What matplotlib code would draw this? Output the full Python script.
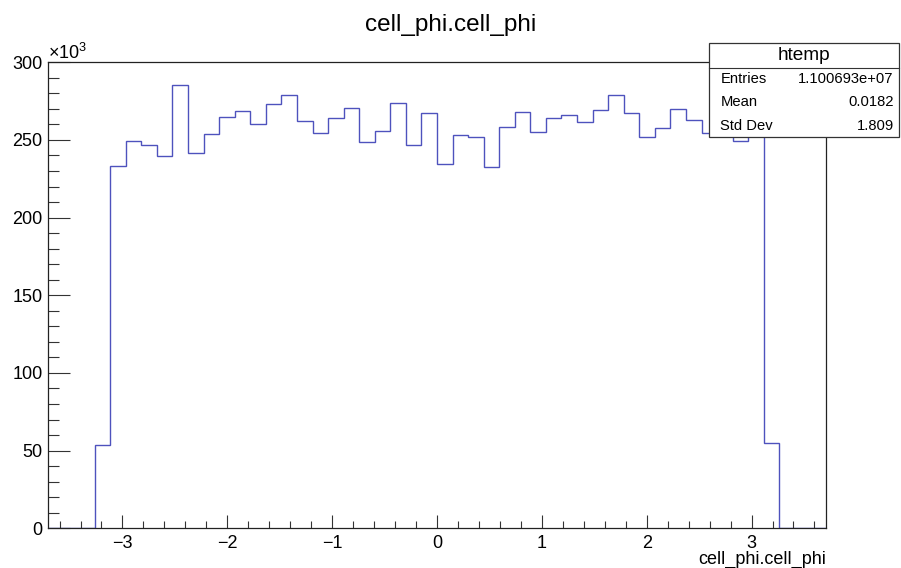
import matplotlib
matplotlib.use('Agg')
import matplotlib.pyplot as plt
import numpy as np
from matplotlib.patches import Rectangle
from matplotlib.lines import Line2D
from matplotlib.ticker import MultipleLocator, FuncFormatter

plt.rcParams['font.family'] = ['Liberation Sans', 'DejaVu Sans']
plt.rcParams['mathtext.fontset'] = 'custom'
plt.rcParams['mathtext.rm'] = 'Liberation Sans'
plt.rcParams['mathtext.it'] = 'Liberation Sans'

# histogram of cell_phi: 50 bins on [-3.71, 3.71], counts per bin
x_min, x_max, n_bins = -3.71, 3.71, 50
counts = [
    0, 0, 0,
    53600, 233300, 249400, 247000, 239900, 285300, 241900,
    253700, 265000, 268900, 260300, 273000, 279200, 262300, 254300, 264000, 270600,
    248500, 255800, 273900, 247000, 267200, 234600, 253100, 252200, 232800, 258600,
    268100, 255000, 264000, 265900, 261400, 269300, 278800, 267400, 252200, 257600,
    269800, 262900, 254700, 266000, 249600, 262000, 55100,
    0, 0, 0,
]

hist_name = 'htemp'
var_name = 'cell_phi.cell_phi'
stat_labels = ['Entries', 'Mean', 'Std Dev']
stat_values = ['1.100693e+07', '0.0182', '1.809']

W, H = 901, 568
fig = plt.figure(figsize=(W / 100, H / 100), dpi=100)
ax = fig.add_axes([48 / W, 1 - 528.3 / H, 778 / W, 466 / H])

edges = np.linspace(x_min, x_max, n_bins + 1)
ax.stairs(counts, edges, baseline=0, color='#4e52bd', lw=1.0)

ax.set_xlim(x_min, x_max)
ax.set_ylim(0, 300000)

ax.xaxis.set_major_locator(MultipleLocator(1))
ax.xaxis.set_minor_locator(MultipleLocator(0.2))
ax.yaxis.set_major_locator(MultipleLocator(50000))
ax.yaxis.set_minor_locator(MultipleLocator(10000))
ax.yaxis.set_major_formatter(FuncFormatter(lambda v, p: f'{v / 1000:.0f}'))

ax.tick_params(axis='both', which='both', direction='in', color='#333333', width=0.8,
               top=False, right=False, labelsize=13)
ax.tick_params(axis='x', which='major', length=9.4, pad=5)
ax.tick_params(axis='x', which='minor', length=5.2)
ax.tick_params(axis='y', which='major', length=16, pad=4)
ax.tick_params(axis='y', which='minor', length=8)
for s in ax.spines.values():
    s.set_linewidth(0.9)
    s.set_color('#222222')

# axis title sits right-aligned under the frame
fig.text(826 / W, 1 - 564 / H, var_name, fontsize=13, ha='right', va='baseline')
fig.text(48 / W, 1 - 63 / H, '×10$^{3}$', fontsize=13, ha='left', va='bottom')
fig.text(0.5, 1 - 25 / H, var_name, fontsize=17.5, ha='center', va='center')

# statistics box
bx0, bx1, by0, by1 = 709, 899, 43.3, 136.7
fig.add_artist(Rectangle((bx0 / W, 1 - by1 / H), (bx1 - bx0) / W, (by1 - by0) / H,
                         transform=fig.transFigure, facecolor='white',
                         edgecolor='#333333', lw=0.9, zorder=5))
fig.add_artist(Line2D([bx0 / W, bx1 / W], [1 - 68.3 / H, 1 - 68.3 / H],
                      transform=fig.transFigure, color='#333333', lw=0.8, zorder=6))
fig.text((bx0 + bx1) / 2 / W, 1 - 56 / H, hist_name, fontsize=13.7,
         ha='center', va='center', zorder=7)
for i, (lab, val) in enumerate(zip(stat_labels, stat_values)):
    yy = 1 - (79 + i * 23.5) / H
    fig.text(720.5 / W, yy, lab, fontsize=10.6, ha='left', va='center', zorder=7)
    fig.text(893.5 / W, yy, val, fontsize=10.6, ha='right', va='center', zorder=7)

fig.savefig('out.png', dpi=100)
